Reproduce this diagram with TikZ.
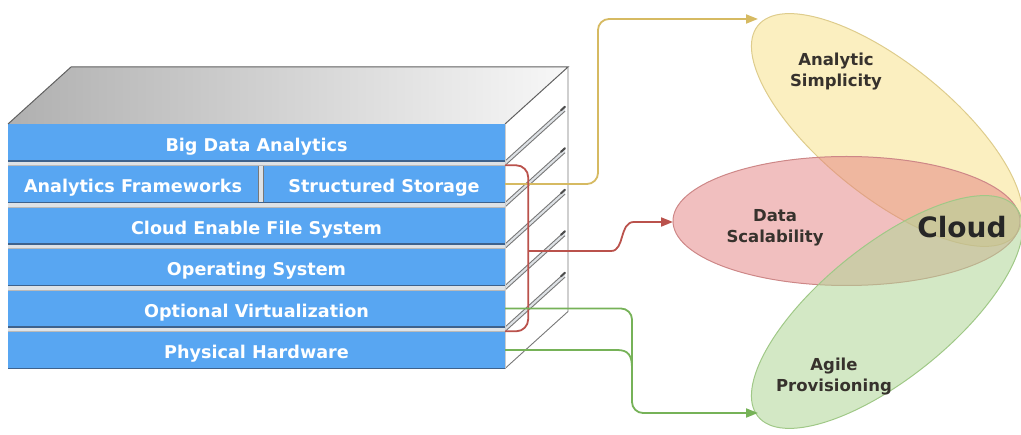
\documentclass[tikz,border=0pt]{standalone}
\usepackage{fontspec}
\setmainfont{DejaVu Sans}
\usetikzlibrary{arrows.meta}

\definecolor{slab}{RGB}{88,166,242}
\definecolor{slabedge}{RGB}{62,98,140}
\definecolor{gapfill}{RGB}{222,226,230}
\definecolor{edgegray}{RGB}{120,120,120}
\definecolor{ellY}{RGB}{247,226,140}
\definecolor{ellYline}{RGB}{222,204,140}
\definecolor{ellP}{RGB}{228,128,128}
\definecolor{ellPline}{RGB}{205,135,135}
\definecolor{ellG}{RGB}{175,214,150}
\definecolor{ellGline}{RGB}{160,200,135}
\definecolor{arrY}{RGB}{214,186,98}
\definecolor{arrR}{RGB}{186,82,76}
\definecolor{arrG}{RGB}{118,178,88}
\definecolor{labeltext}{RGB}{55,50,45}

\begin{document}
\begin{tikzpicture}[x=1pt,y=-1pt,
  bar/.style={fill=slab, draw=none, inner sep=0pt, text=white,
    font=\fontsize{17.6}{20}\selectfont\bfseries,
    text height=18pt, text depth=0pt, minimum height=37pt},
  ellipselabel/.style={align=center, text=labeltext, inner sep=0pt,
    font=\fontsize{16.5}{21}\selectfont\bfseries},
  sideline/.style={draw=edgegray, line width=0.9pt},
  link/.style={line width=1.8pt, rounded corners=11pt},
  tip/.style={-{Triangle[length=12pt,width=9pt]}},
]
\useasboundingbox (0,0) rectangle (1021,435);

% ---- overlapping benefit ellipses ----
\path[fill=ellY, fill opacity=.55, draw=ellYline, line width=1pt,
      rotate around={-39:(887,130)}] (887,130) ellipse [x radius=166, y radius=66];
\path[fill=ellP, fill opacity=.5, draw=ellPline, line width=1pt]
      (846.5,221) ellipse [x radius=173.5, y radius=64.5];
\path[fill=ellG, fill opacity=.55, draw=ellGline, line width=1pt,
      rotate around={39:(887,312)}] (887,312) ellipse [x radius=166, y radius=66];

% ---- stack: top face and side face ----
\shade[left color=gray!62, right color=gray!6]
  (8,124) -- (71,67) -- (568,67) -- (505,124) -- cycle;
\fill[white] (505,124) -- (568,67) -- (568,311.5) -- (505,368.5) -- cycle;

% ---- stack: front faces of the layers ----
\node[bar, minimum width=497pt] (bda) at (256.5,142.5) {Big Data Analytics};
\node[bar, minimum width=250pt] (af)  at (133,184) {Analytics Frameworks};
\node[bar, minimum width=242pt] (ss)  at (384,184) {Structured Storage};
\node[bar, minimum width=497pt] (cef) at (256.5,225.5) {Cloud Enable File System};
\node[bar, minimum width=497pt] (os)  at (256.5,267) {Operating System};
\node[bar, minimum width=497pt] (ov)  at (256.5,308.5) {Optional Virtualization};
\node[bar, minimum width=497pt] (ph)  at (256.5,350) {Physical Hardware};

% divider between the two halves of the second layer
\fill[gapfill] (258,161) rectangle (263,207);
\draw[edgegray, line width=0.6pt] (258,161) -- (258,202.5) (263,161) -- (263,202.5);

% gaps between layers, on the front and along the side
\foreach \t/\b in {161/165.5, 202.5/207, 244/248.5, 285.5/290, 327/331.5} {
  \fill[gapfill] (8,\t) rectangle (505,\b);
  \draw[slabedge, line width=1.4pt] (8,\t) -- (505,\t);
  \draw[gray!55, line width=0.6pt] (8,\b) -- (505,\b);
  \fill[gapfill] (505,\t) -- (565,\t-54.3) -- (565,\b-54.3) -- (505,\b) -- cycle;
  \draw[sideline] (505,\t) -- (565,\t-54.3);
  \draw[sideline] (505,\b) -- (565,\b-54.3);
  \draw[black!70, line width=2pt, line cap=round] (561,\t-50.7) -- (565,\t-54.3);
}
\draw[slabedge, line width=1.4pt] (8,368.5) -- (505,368.5);

% outer edges of the stack
\draw[gray!75!black, line width=1pt] (8,124) -- (71,67) -- (568,67) -- (505,124);
\draw[sideline] (568,67) -- (568,311.5) -- (505,368.5);
\draw[gray!40, line width=0.6pt] (505,124) -- (505,368.5);

% ---- benefit labels ----
\node[ellipselabel] (simp) at (836,72) {Analytic\\Simplicity};
\node[ellipselabel] (scal) at (775,228) {Data\\Scalability};
\node[ellipselabel] (agil) at (834,377) {Agile\\Provisioning};
\node[text=black!85, inner sep=0pt, font=\fontsize{28}{30}\selectfont\bfseries]
  (cloud) at (962,227) {Cloud};

% ---- connectors ----
\coordinate (ytip) at (758,19);
\coordinate (rtip) at (673,222);
\coordinate (gtip) at (758,413);
\coordinate (rsplit) at (528,251);

\draw[link, arrY, tip] (ss.east) -| (598,19) -- (ytip);

\draw[link, arrR, rounded corners=12pt]
  (ss.north east) -- ++(23,0) |- (ph.north east);
\draw[line width=1.8pt, arrR, tip]
  (rsplit) -- (611,251) .. controls (625,251) and (619,222) .. (634,222) -- (rtip);

\draw[link, arrG, tip] (ov.east) -| (632,413) -- (gtip);
\draw[line width=1.8pt, arrG]
  (ph.east) -- (617,350) .. controls (628,350) and (632,355) .. (632,368);
\end{tikzpicture}
\end{document}
